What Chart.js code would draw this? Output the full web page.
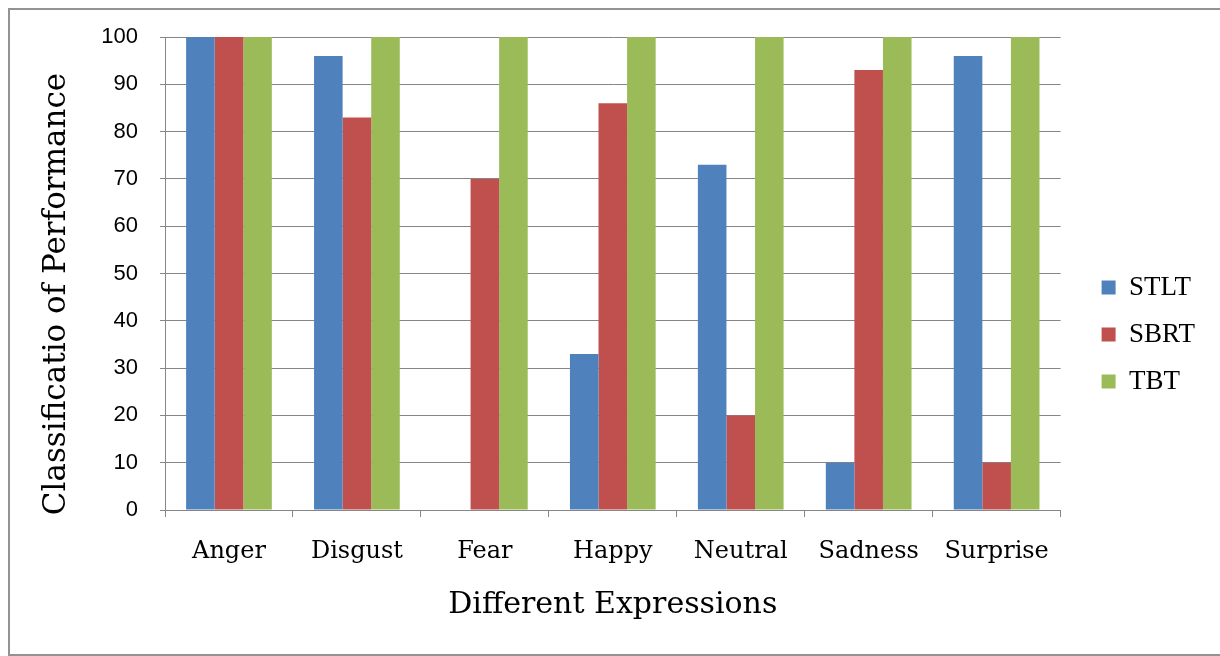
<!DOCTYPE html>
<html>
<head>
<meta charset="utf-8">
<script src="https://cdn.jsdelivr.net/npm/chart.js@4/dist/chart.umd.min.js"></script>
<style>
  html, body { margin: 0; padding: 0; background: #fff; overflow: hidden; }
  #wrap { position: relative; width: 1220px; height: 656px; overflow: hidden; }
  #frame {
    position: absolute; left: 8px; top: 8px; width: 1240px; height: 644px;
    border: 2px solid #939393; border-right: none; pointer-events: none;
  }
</style>
</head>
<body>
<div id="wrap">
  <canvas id="chart" width="1220" height="656"></canvas>
  <div id="frame"></div>
</div>
<script>
// Recognition performance per facial expression for three classifiers
const expressions = ['Anger', 'Disgust', 'Fear', 'Happy', 'Neutral', 'Sadness', 'Surprise'];
const stlt = [100, 96, 0, 33, 73, 10, 96];
const sbrt = [100, 83, 70, 86, 20, 93, 10];
const tbt  = [100, 100, 100, 100, 100, 100, 100];
const seriesNames = ['STLT', 'SBRT', 'TBT'];
const yTitle = 'Classificatio of Performance';
const xTitle = 'Different Expressions';

const colors = ['#4F81BD', '#C0504D', '#9BBB59'];
const gridColor = '#868686';

// vertical axis title, drawn rotated beside the value axis
const yTitlePlugin = {
  id: 'yTitle',
  afterDraw(chart) {
    const ctx = chart.ctx;
    ctx.save();
    ctx.translate(57, 294);
    ctx.rotate(-Math.PI / 2);
    ctx.font = '31px "DejaVu Serif"';
    ctx.fillStyle = '#000';
    ctx.textAlign = 'center';
    ctx.textBaseline = 'middle';
    ctx.fillText(yTitle, 0, 0);
    ctx.restore();
  }
};

// nudge the legend block a little further away from the plot
const legendOffset = {
  id: 'legendOffset',
  afterLayout(chart) {
    const lg = chart.legend;
    lg.left += 21; lg.right += 21;
    lg.top -= 12; lg.bottom -= 12;
  }
};

new Chart(document.getElementById('chart'), {
  type: 'bar',
  data: {
    labels: expressions,
    datasets: [stlt, sbrt, tbt].map((d, i) => ({
      label: seriesNames[i],
      data: d,
      backgroundColor: colors[i],
      borderWidth: 0,
      categoryPercentage: 0.67,
      barPercentage: 1.0
    }))
  },
  options: {
    responsive: false,
    animation: false,
    devicePixelRatio: 1,
    layout: { padding: { left: 0, top: 37, right: 36, bottom: 0 } },
    plugins: {
      legend: {
        position: 'right',
        labels: {
          font: { family: '"Liberation Serif"', size: 27 },
          color: '#000',
          boxWidth: 14,
          boxHeight: 14,
          padding: 20
        }
      },
      tooltip: { enabled: false }
    },
    scales: {
      x: {
        grid: {
          offset: true,
          drawOnChartArea: false,
          drawTicks: true,
          tickLength: 7,
          color: gridColor,
          lineWidth: 1
        },
        border: { color: gridColor, width: 1 },
        ticks: {
          font: { family: '"DejaVu Serif"', size: 24 },
          color: '#000',
          padding: 20,
          maxRotation: 0
        },
        title: {
          display: true,
          text: xTitle,
          font: { family: '"DejaVu Serif"', size: 30 },
          color: '#000',
          padding: { top: 0, bottom: 33 }
        },
        afterFit(scale) { scale.height = 146; }
      },
      y: {
        min: 0,
        max: 100,
        ticks: {
          stepSize: 10,
          font: { family: '"Liberation Sans"', size: 22 },
          color: '#000',
          padding: 22
        },
        grid: {
          color: gridColor,
          lineWidth: 1,
          tickLength: 5
        },
        border: { color: gridColor, width: 1 },
        afterFit(scale) { scale.width = 165; }
      }
    }
  },
  plugins: [yTitlePlugin, legendOffset]
});
</script>
</body>
</html>
